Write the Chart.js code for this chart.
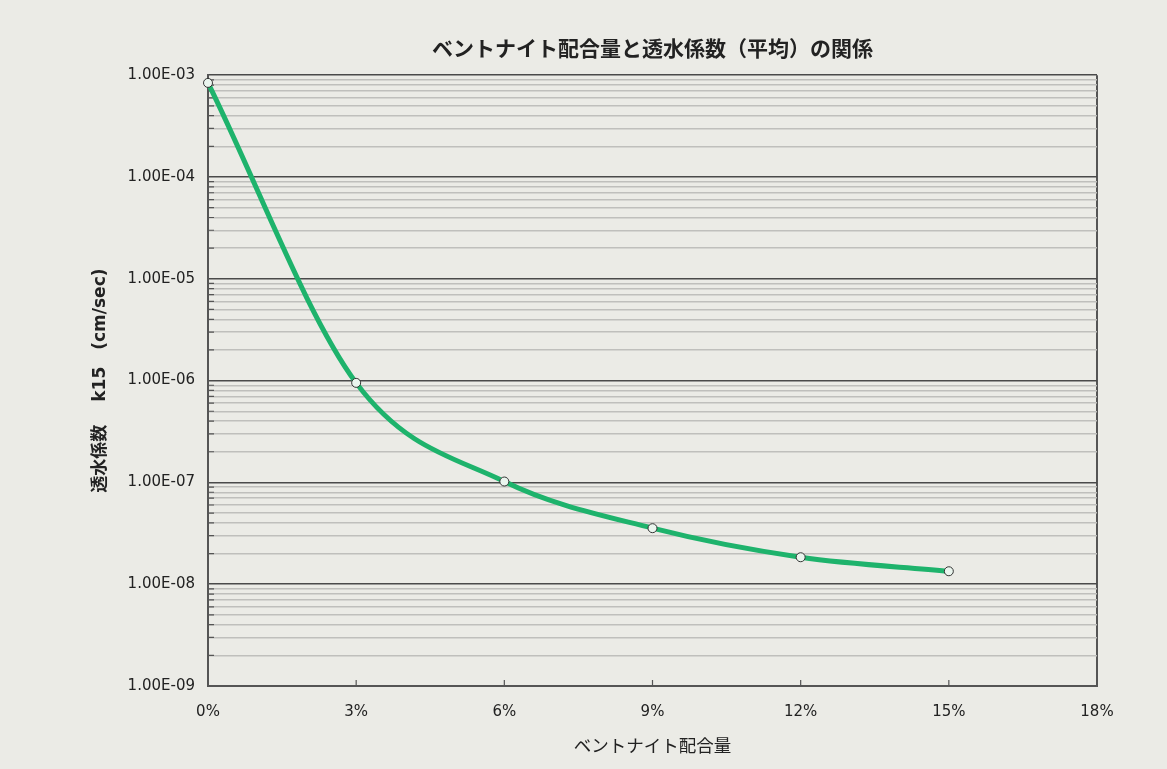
<!DOCTYPE html>
<html>
<head>
<meta charset="utf-8">
<script src="https://cdn.jsdelivr.net/npm/chart.js@4"></script>
<style>
  html, body { margin: 0; padding: 0; background: #EBEBE6; }
  #wrap { width: 1167px; height: 769px; }
</style>
</head>
<body>
<div id="wrap"><canvas id="permChart"></canvas></div>
<script>
// data
const bentonitePct = [0, 3, 6, 9, 12, 15];
const permeability = [8.4e-4, 9.5e-7, 1.02e-7, 3.55e-8, 1.84e-8, 1.34e-8];

// axis ticks
const xTicks = [0, 3, 6, 9, 12, 15, 18];
const yDecades = [1e-9, 1e-8, 1e-7, 1e-6, 1e-5, 1e-4, 1e-3];
const yDecadeLabels = ['1.00E-09', '1.00E-08', '1.00E-07', '1.00E-06', '1.00E-05', '1.00E-04', '1.00E-03'];
const yMinorSteps = [2, 3, 4, 5, 6, 7, 8, 9];

const chartTitle = 'ベントナイト配合量と透水係数（平均）の関係';
const xTitle = 'ベントナイト配合量';
const yTitle = '透水係数　 k15　(cm/sec)';

const numFont = "'DejaVu Sans', 'Noto Sans CJK JP', sans-serif";
const jpFont = "'Noto Sans CJK JP', sans-serif";

function isDecade(v) {
    const l = Math.log10(v);
    return Math.abs(l - Math.round(l)) < 1e-6;
}

// small inner tick marks on the left and bottom axes
const innerTicks = {
    id: 'innerTicks',
    beforeDatasetsDraw(chart) {
        const { ctx, chartArea, scales } = chart;
        ctx.save();
        ctx.strokeStyle = '#555';
        ctx.lineWidth = 1.2;
        ctx.beginPath();
        scales.y.ticks.forEach(t => {
            if (isDecade(t.value)) return;
            const y = scales.y.getPixelForValue(t.value);
            ctx.moveTo(chartArea.left, y);
            ctx.lineTo(chartArea.left + 6, y);
        });
        xTicks.forEach(v => {
            const x = scales.x.getPixelForValue(v);
            ctx.moveTo(x, chartArea.bottom);
            ctx.lineTo(x, chartArea.bottom - 6);
        });
        ctx.stroke();
        ctx.restore();
    }
};

const ctx = document.getElementById('permChart').getContext('2d');
new Chart(ctx, {
    type: 'line',
    data: {
        datasets: [{
            data: bentonitePct.map((x, i) => ({ x: x, y: permeability[i] })),
            borderColor: '#1EB36C',
            borderWidth: 5,
            cubicInterpolationMode: 'monotone',
            clip: false,
            pointRadius: 4.5,
            pointBackgroundColor: '#EAF5EE',
            pointBorderColor: '#333',
            pointBorderWidth: 1
        }]
    },
    plugins: [innerTicks],
    options: {
        responsive: true,
        maintainAspectRatio: false,
        animation: false,
        events: [],
        layout: { padding: { left: 0, right: 70, top: 0, bottom: 0 } },
        plugins: {
            legend: { display: false },
            tooltip: { enabled: false },
            title: {
                display: true,
                fullSize: false,
                text: chartTitle,
                color: '#222',
                font: { family: jpFont, size: 21, weight: 'bold' },
                padding: { top: 35, bottom: 15 }
            }
        },
        scales: {
            x: {
                type: 'linear',
                min: 0,
                max: 18,
                afterBuildTicks: s => { s.ticks = xTicks.map(v => ({ value: v })); },
                afterFit: s => { s.height = 83; },
                ticks: {
                    callback: v => v + '%',
                    color: '#222',
                    font: { family: numFont, size: 15 },
                    padding: 17,
                    maxRotation: 0
                },
                grid: {
                    drawTicks: false,
                    color: c => (c.tick && c.tick.value === 18) ? '#555' : 'transparent',
                    lineWidth: 2
                },
                border: { display: true, color: '#555', width: 2 },
                title: {
                    display: true,
                    text: xTitle,
                    color: '#222',
                    font: { family: jpFont, size: 17.5 },
                    padding: { top: 0, bottom: 13 }
                }
            },
            y: {
                type: 'logarithmic',
                min: 1e-9,
                max: 1e-3,
                afterBuildTicks: s => {
                    const t = [];
                    yDecades.forEach((d, i) => {
                        t.push({ value: d });
                        if (i < yDecades.length - 1) yMinorSteps.forEach(m => t.push({ value: d * m }));
                    });
                    s.ticks = t;
                },
                afterFit: s => { s.width = 208; },
                ticks: {
                    autoSkip: false,
                    callback: v => {
                        const i = yDecades.findIndex(d => Math.abs(d - v) / d < 1e-6);
                        return i >= 0 ? yDecadeLabels[i] : '';
                    },
                    color: '#222',
                    font: { family: numFont, size: 15 },
                    padding: 13
                },
                grid: {
                    drawTicks: false,
                    color: c => isDecade(c.tick.value) ? '#4A4A4A' : '#BFBFBC',
                    lineWidth: c => isDecade(c.tick.value) ? 1.6 : 1.4
                },
                border: { display: true, color: '#555', width: 2 },
                title: {
                    display: true,
                    text: yTitle,
                    color: '#222',
                    font: { family: numFont, size: 17, weight: 'bold' },
                    padding: { top: 90, bottom: 0 }
                }
            }
        }
    }
});
</script>
</body>
</html>
